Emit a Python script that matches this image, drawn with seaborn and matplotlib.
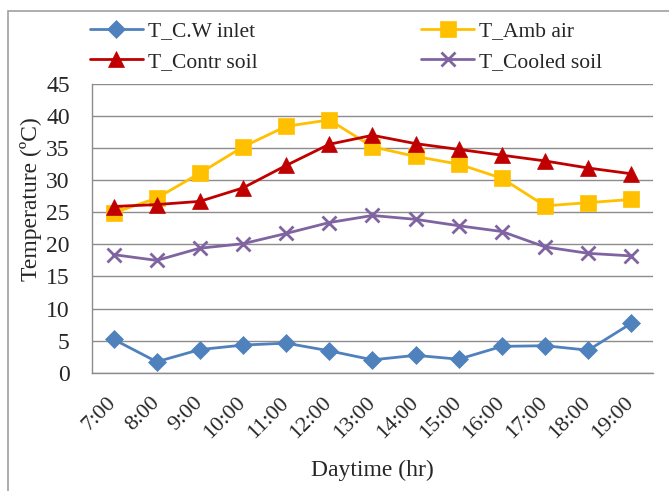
import numpy as np
import pandas as pd
import seaborn as sns
import matplotlib
matplotlib.use("Agg")
import matplotlib.pyplot as plt
import matplotlib.transforms as mtransforms
from matplotlib.patches import Rectangle

# Data
hours = ["7:00", "8:00", "9:00", "10:00", "11:00", "12:00", "13:00",
         "14:00", "15:00", "16:00", "17:00", "18:00", "19:00"]
t_cw_inlet = [5.2, 1.7, 3.6, 4.3, 4.6, 3.4, 2.0, 2.7, 2.1, 4.1, 4.2, 3.5, 7.7]
t_amb_air = [24.9, 27.2, 31.1, 35.2, 38.4, 39.4, 35.2, 33.7, 32.5, 30.3, 26.0, 26.5, 27.0]
t_contr_soil = [25.9, 26.2, 26.7, 28.8, 32.3, 35.6, 37.0, 35.7, 34.8, 33.9, 33.0, 31.9, 31.0]
t_cooled_soil = [18.4, 17.5, 19.4, 20.1, 21.7, 23.4, 24.5, 23.9, 22.9, 22.0, 19.6, 18.6, 18.2]

series = {
    "T_C.W inlet": t_cw_inlet,
    "T_Amb air": t_amb_air,
    "T_Contr soil": t_contr_soil,
    "T_Cooled soil": t_cooled_soil,
}
colors = {"T_C.W inlet": "#4F81BD", "T_Amb air": "#FFC000",
          "T_Contr soil": "#C00000", "T_Cooled soil": "#8064A2"}
markers = {"T_C.W inlet": "D", "T_Amb air": "s",
           "T_Contr soil": "^", "T_Cooled soil": "x"}
msizes = {"T_C.W inlet": 9, "T_Amb air": 11, "T_Contr soil": 11, "T_Cooled soil": 10}

rows = []
for name, vals in series.items():
    for i, v in enumerate(vals):
        rows.append({"idx": i, "temp": v, "series": name})
df = pd.DataFrame(rows)

sns.set_style("white")
plt.rcParams['font.family'] = ['Liberation Serif', 'DejaVu Serif']

fig = plt.figure(figsize=(6.69, 4.91), dpi=100)
ax = fig.add_axes([0.1375, 0.241, 0.976 - 0.1375, 0.829 - 0.241])

for name in series:
    sub = df[df["series"] == name]
    sns.lineplot(data=sub, x="idx", y="temp", ax=ax, color=colors[name],
                 marker=markers[name], markersize=msizes[name],
                 markeredgecolor=colors[name], markeredgewidth=2 if name == "T_Cooled soil" else 0.5,
                 linewidth=2, label=name, zorder=3)

ax.set_xlim(-0.5, len(hours) - 0.5)
ax.set_ylim(0, 45)
ax.set_yticks(np.arange(0, 46, 5))
ax.yaxis.grid(True, color="#8C8C8C", linewidth=1)
ax.set_axisbelow(True)

ax.set_xticks(range(len(hours)))
ax.set_xticklabels(hours, rotation=45, ha="right", rotation_mode="anchor", fontsize=16)
ax.set_xticks(np.arange(-0.5, len(hours), 1), minor=True)
ax.tick_params(axis="x", which="major", length=0, pad=15)
ax.tick_params(axis="x", which="minor", length=6, color="#8C8C8C", width=1, direction="out")
ax.tick_params(axis="y", which="major", length=6, color="#8C8C8C", width=1, labelsize=17,
               direction="out", pad=10)
shift = mtransforms.ScaledTranslation(-7 / 100, 0, fig.dpi_scale_trans)
for lab in ax.get_xticklabels():
    lab.set_transform(lab.get_transform() + shift)

for s in ["top", "right"]:
    ax.spines[s].set_visible(False)
for s in ["left", "bottom"]:
    ax.spines[s].set_color("#8C8C8C")
    ax.spines[s].set_linewidth(1)

ax.set_xlabel("Daytime (hr)", fontsize=17)
ax.set_ylabel("Temperature (ºC)", fontsize=17)
ax.xaxis.set_label_coords(0.5, -0.303)
ax.yaxis.set_label_coords(-0.09, 0.6)

# legend rows: C.W inlet / Amb air, then Contr soil / Cooled soil
handles, labels = ax.get_legend_handles_labels()
order = [labels.index(n) for n in ["T_C.W inlet", "T_Contr soil", "T_Amb air", "T_Cooled soil"]]
ax.legend([handles[i] for i in order], [labels[i] for i in order],
          loc="upper left", bbox_to_anchor=(90 / 669, 1 - 21 / 491),
          bbox_transform=fig.transFigure, ncol=2, frameon=False,
          fontsize=15.5, handlelength=2.45, columnspacing=7.6, handletextpad=0.25,
          labelspacing=0.5, borderpad=0, borderaxespad=0)

# chart border
fig.patches.append(Rectangle((8 / 669, -0.1), 1.2, 1 - 11 / 491 + 0.1,
                             transform=fig.transFigure, fill=False,
                             edgecolor="#A0A0A0", linewidth=1.2))

fig.savefig("out.png", dpi=100)
